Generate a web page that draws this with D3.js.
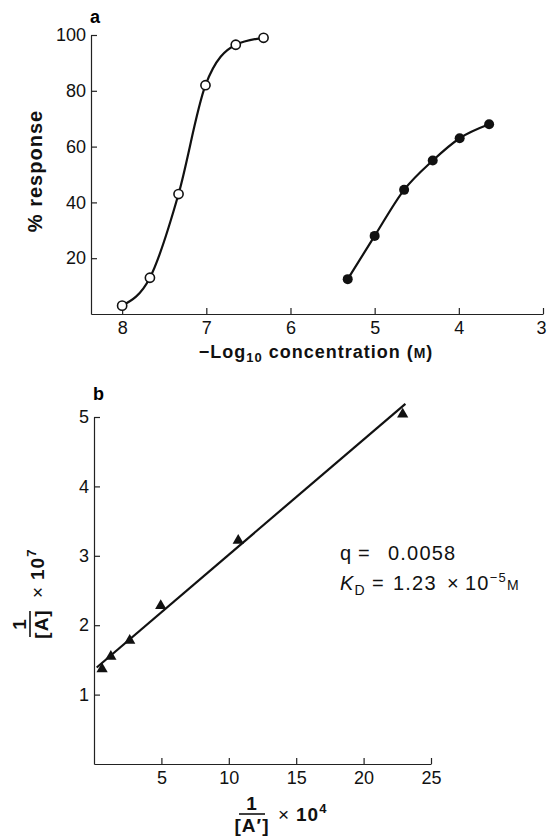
<!DOCTYPE html>
<html>
<head>
<meta charset="utf-8">
<script src="https://cdn.jsdelivr.net/npm/d3@7"></script>
<style>
  body { margin: 0; background: #fff; }
  svg { display: block; font-family: "Liberation Sans", Arial, sans-serif; }
  .tick text { font-size: 18px; fill: #111; }
  .axis path, .axis line { stroke: #222; stroke-width: 1.2; }
  .label { font-weight: bold; fill: #111; letter-spacing: 1px; }
</style>
</head>
<body>
<svg id="chart" width="547" height="840"></svg>
<script>
// Panel a: dose-response curves, x is -log10 concentration
const openLogConc = [8.0, 7.67, 7.33, 7.01, 6.65, 6.32];
const openResponse = [3, 13, 43, 82, 96.5, 99];
const filledLogConc = [5.32, 5.0, 4.65, 4.31, 3.99, 3.64];
const filledResponse = [12.5, 28, 44.5, 55, 63, 68];
const aXTicks = [8, 7, 6, 5, 4, 3];
const aYTicks = [20, 40, 60, 80, 100];

// Panel b: double reciprocal plot
const invAPrime = [0.6, 1.25, 2.65, 4.95, 10.7, 22.9];
const invA = [1.37, 1.55, 1.78, 2.28, 3.22, 5.04];
const fitX = [0.2, 23.1];
const fitY = [1.39, 5.19];
const bXTicks = [5, 10, 15, 20, 25];
const bYTicks = [1, 2, 3, 4, 5];

const svg = d3.select('#chart');

const xA = d3.scaleLinear().domain([8.37, 3]).range([91, 543]);
const yA = d3.scaleLinear().domain([0, 100]).range([314, 35]);
const xB = d3.scaleLinear().domain([0, 25]).range([94, 431]);
const yB = d3.scaleLinear().domain([0, 5]).range([764, 417]);

// axes, ticks point inward
function drawAxes(x, y, xTicks, yTicks) {
  const gx = svg.append('g')
    .attr('class', 'axis')
    .attr('transform', `translate(0,${y.range()[0]})`)
    .call(d3.axisBottom(x).tickValues(xTicks).tickFormat(d3.format('d'))
      .tickSize(-6).tickSizeOuter(0).tickPadding(7));

  svg.append('g')
    .attr('class', 'axis')
    .attr('transform', `translate(${x.range()[0]},0)`)
    .call(d3.axisLeft(y).tickValues(yTicks).tickFormat(d3.format('d'))
      .tickSize(-6).tickSizeOuter(0).tickPadding(5));
  return gx;
}

const axA = drawAxes(xA, yA, aXTicks, aYTicks);
drawAxes(xB, yB, bXTicks, bYTicks);

// last label of panel a sits at the page edge
axA.selectAll('.tick text').filter((d) => d === 3).attr('dx', -2);

// panel a curves
const lineA = d3.line()
  .x((d) => xA(d[0]))
  .y((d) => yA(d[1]))
  .curve(d3.curveMonotoneX);

const openPts = d3.zip(openLogConc, openResponse);
const filledPts = d3.zip(filledLogConc, filledResponse);

svg.append('path').datum(openPts)
  .attr('d', lineA).attr('fill', 'none').attr('stroke', '#111').attr('stroke-width', 2.2);
svg.append('path').datum(filledPts)
  .attr('d', lineA).attr('fill', 'none').attr('stroke', '#111').attr('stroke-width', 2.2);

svg.selectAll('.open-pt').data(openPts).enter().append('circle')
  .attr('class', 'open-pt')
  .attr('cx', (d) => xA(d[0])).attr('cy', (d) => yA(d[1])).attr('r', 4.6)
  .attr('fill', '#fff').attr('stroke', '#111').attr('stroke-width', 1.6);

svg.selectAll('.filled-pt').data(filledPts).enter().append('circle')
  .attr('class', 'filled-pt')
  .attr('cx', (d) => xA(d[0])).attr('cy', (d) => yA(d[1])).attr('r', 5)
  .attr('fill', '#111');

// panel b fit line and triangles
svg.append('path').datum(d3.zip(fitX, fitY))
  .attr('d', d3.line().x((d) => xB(d[0])).y((d) => yB(d[1])))
  .attr('fill', 'none').attr('stroke', '#111').attr('stroke-width', 2.2);

svg.selectAll('.tri').data(d3.zip(invAPrime, invA)).enter().append('path')
  .attr('class', 'tri')
  .attr('transform', (d) => `translate(${xB(d[0])},${yB(d[1])})`)
  .attr('d', d3.symbol(d3.symbolTriangle, 55))
  .attr('fill', '#111');

// panel letters
svg.append('text').attr('x', 90).attr('y', 23).attr('font-size', 18).attr('font-weight', 'bold').text('a');
svg.append('text').attr('x', 93).attr('y', 400).attr('font-size', 18).attr('font-weight', 'bold').text('b');

// panel a axis labels
svg.append('text').attr('class', 'label')
  .attr('transform', 'translate(42,171) rotate(-90)')
  .attr('text-anchor', 'middle').attr('font-size', 20)
  .text('% response');

const xaLabel = svg.append('text').attr('class', 'label')
  .attr('x', 316).attr('y', 358).attr('text-anchor', 'middle').attr('font-size', 18);
xaLabel.append('tspan').text('\u2212Log');
xaLabel.append('tspan').attr('font-size', 13).attr('dy', 4).text('10');
xaLabel.append('tspan').attr('dy', -4).text(' concentration (');
xaLabel.append('tspan').attr('font-size', 14).text('M');
xaLabel.append('tspan').text(')');

// fraction style label: 1 / den x 10^exp
function fractionLabel(transform, den, exp, base) {
  const g = svg.append('g').attr('transform', transform)
    .attr('class', 'label').attr('font-size', 19);
  g.append('line').attr('x1', -13).attr('x2', 13).attr('y1', 0).attr('y2', 0)
    .attr('stroke', '#111').attr('stroke-width', 1.6);
  g.append('text').attr('text-anchor', 'middle').attr('y', -4).text('1');
  g.append('text').attr('text-anchor', 'middle').attr('y', 18).text(den);
  g.append('text').attr('x', 26).attr('y', base).attr('font-weight', 'normal').text('\u00d7');
  const t = g.append('text').attr('x', 44).attr('y', base).text('10');
  t.append('tspan').attr('font-size', 13).attr('dy', -8).text(exp);
  return g;
}

fractionLabel('translate(30,624) rotate(-90)', '[A]', '7', 14);
fractionLabel('translate(252,814)', '[A\u2032]', '4', 7);

// annotation
const ann = svg.append('g').attr('font-size', 20).attr('fill', '#111').attr('letter-spacing', 1.2);
const q = ann.append('text').attr('y', 560);
q.append('tspan').attr('x', 340).text('q');
q.append('tspan').attr('x', 358).text('=');
q.append('tspan').attr('x', 388).text('0.0058');

const kd = ann.append('text').attr('y', 590);
kd.append('tspan').attr('x', 340).attr('font-style', 'italic').text('K');
kd.append('tspan').attr('font-size', 14).attr('dy', 5).text('D');
kd.append('tspan').attr('x', 372).attr('dy', -5).text('=');
kd.append('tspan').attr('x', 393).text('1.23');
kd.append('tspan').attr('x', 447).text('\u00d7');
kd.append('tspan').attr('x', 465).text('10');
kd.append('tspan').attr('font-size', 13).attr('dy', -8).text('\u22125');
kd.append('tspan').attr('font-size', 14).attr('dy', 8).text('M');
</script>
</body>
</html>
